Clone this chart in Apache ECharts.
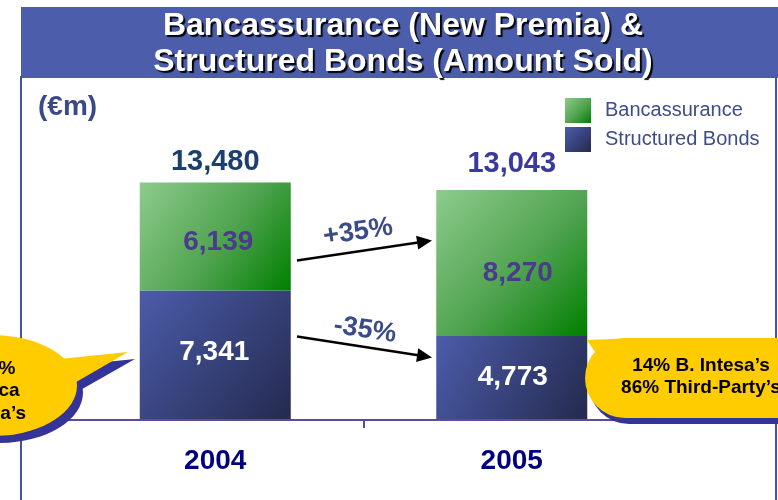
<!DOCTYPE html>
<html><head><meta charset="utf-8">
<script src="https://cdn.jsdelivr.net/npm/echarts@6/dist/echarts.min.js"></script>
<style>html,body{margin:0;padding:0;background:#fff}#c{width:778px;height:500px}</style>
</head><body><div id="c"></div>
<script>
// ---- data ----
const years = ['2004', '2005'];
const structuredBonds = [7341, 4773];
const bancassurance = [6139, 8270];
const totals = [13480, 13043];
const growthBanc = '+35%';
const growthBonds = '-35%';
const unitLabel = '(€m)';
const titleText = 'Bancassurance (New Premia) &\nStructured Bonds (Amount Sold)';
const calloutLeft = ['100%', 'Banca', 'Intesa’s'];
const calloutRight = ['14% B. Intesa’s', '86% Third-Party’s'];

// ---- styles ----
const FONT = "'Liberation Sans', Arial, sans-serif";
const greenGrad = new echarts.graphic.LinearGradient(0, 0, 1, 1, [
  {offset: 0, color: '#8DCB8D'}, {offset: 0.55, color: '#4FA34F'}, {offset: 1, color: '#007F00'}]);
const blueGrad = new echarts.graphic.LinearGradient(0, 0, 1, 1, [
  {offset: 0, color: '#4B5CAA'}, {offset: 1, color: '#242A4E'}]);
const greenOff = [[3, 6], [6, 10]];
const blueOff = [[-1, -3], [1, -1]];
const totalDist = [5, 11];
const totalColor = ['#1B3F6E', '#3A3A9C'];

const chart = echarts.init(document.getElementById('c'), null, {renderer: 'canvas'});

function arrow(x1, y1, x2, y2) {
  const dx = x2 - x1, dy = y2 - y1, L = Math.hypot(dx, dy);
  const ux = dx / L, uy = dy / L, nx = -uy, ny = ux;
  const hl = 15, hw = 7;
  const bx = x2 - hl * ux, by = y2 - hl * uy;
  return [
    {type: 'line', z: 60, shape: {x1: x1, y1: y1, x2: bx + ux, y2: by + uy}, style: {stroke: '#000', lineWidth: 2.5}},
    {type: 'polygon', z: 60, shape: {points: [[x2, y2], [bx + hw * nx, by + hw * ny], [bx - hw * nx, by - hw * ny]]}, style: {fill: '#000'}}
  ];
}

const graphics = [
  {type: 'rect', z: -10, shape: {x: 21, y: 7, width: 757, height: 71}, style: {fill: '#4C5DAB'}},
  {type: 'line', z: -5, shape: {x1: 21, y1: 76, x2: 21, y2: 500}, style: {stroke: '#4453A2', lineWidth: 2}},
  {type: 'line', z: -5, shape: {x1: 776, y1: 76, x2: 776, y2: 500}, style: {stroke: '#4453A2', lineWidth: 2}},
  {type: 'line', z: 50, shape: {x1: 21, y1: 420, x2: 776, y2: 420}, style: {stroke: '#5A4B9B', lineWidth: 2}},
  {type: 'line', z: 50, shape: {x1: 364, y1: 420, x2: 364, y2: 428}, style: {stroke: '#5A4B9B', lineWidth: 2}},
  ...arrow(297, 260.5, 432, 240.5),
  ...arrow(297, 336.5, 432, 357.5),
  {type: 'text', z: 60, x: 358, y: 232, rotation: 0.148,
   style: {text: growthBanc, x: 0, y: 0, align: 'center', verticalAlign: 'middle',
           font: 'bold 27px ' + FONT, fill: '#3B4A88'}},
  {type: 'text', z: 60, x: 365, y: 330, rotation: -0.15,
   style: {text: growthBonds, x: 0, y: 0, align: 'center', verticalAlign: 'middle',
           font: 'bold 27px ' + FONT, fill: '#3B4A88'}},
  // left callout
  {type: 'ellipse', z: 100, shape: {cx: -1, cy: 392.5, rx: 84, ry: 50.5}, style: {fill: '#333399'}},
  {type: 'polygon', z: 100, shape: {points: [[56, 367], [135, 359], [77, 392]]}, style: {fill: '#333399'}},
  {type: 'ellipse', z: 101, shape: {cx: -7, cy: 385.5, rx: 84, ry: 50.5}, style: {fill: '#FFCC00'}},
  {type: 'polygon', z: 101, shape: {points: [[50, 360], [128, 352], [71, 385]]}, style: {fill: '#FFCC00'}},
  {type: 'text', z: 102, style: {text: calloutLeft.join('\n'), x: -9, y: 391, align: 'center', verticalAlign: 'middle',
   font: 'bold 19px ' + FONT, lineHeight: 22.5, fill: '#000'}},
  // right callout
  {type: 'rect', z: 100, shape: {x: 589, y: 344, width: 420, height: 80, r: 40}, style: {fill: '#333399'}},
  {type: 'rect', z: 101, shape: {x: 585, y: 338, width: 420, height: 80, r: 40}, style: {fill: '#FFCC00'}},
  {type: 'polygon', z: 101, shape: {points: [[587, 340], [632, 338.3], [601, 361]]}, style: {fill: '#FFCC00'}},
  {type: 'text', z: 102, style: {text: calloutRight.join('\n'), x: 701, y: 376.5, align: 'center', verticalAlign: 'middle',
   font: 'bold 19px ' + FONT, lineHeight: 22, fill: '#000'}}
];

chart.setOption({
  animation: false,
  backgroundColor: '#fff',
  textStyle: {fontFamily: FONT},
  title: [
    {text: titleText, left: 403, top: 8.5, padding: 0, textAlign: 'center',
     textStyle: {color: '#fff', fontSize: 32, fontWeight: 'bold', lineHeight: 36, fontFamily: FONT,
                 textShadowColor: 'rgba(0,0,0,0.95)', textShadowOffsetX: 2, textShadowOffsetY: 2, textShadowBlur: 1}},
    {text: unitLabel, left: 38, top: 92, padding: 0,
     textStyle: {color: '#3A4A85', fontSize: 28, fontWeight: 'bold', lineHeight: 31, fontFamily: FONT}}
  ],
  legend: {
    data: ['Bancassurance', 'Structured Bonds'],
    orient: 'vertical', left: 565, top: 98, padding: 0,
    itemWidth: 26, itemHeight: 25, itemGap: 4,
    icon: 'rect',
    textStyle: {fontSize: 20, color: '#3E4C88', fontFamily: FONT, padding: [0, 0, 0, 9]}
  },
  grid: {left: 67, right: 118, top: 138, bottom: 80},
  xAxis: {
    type: 'category', data: years,
    axisLine: {show: false}, axisTick: {show: false},
    axisLabel: {fontSize: 28, fontWeight: 'bold', color: '#000080', margin: 27, fontFamily: FONT}
  },
  yAxis: {type: 'value', min: 0, max: 16000, show: false, splitLine: {show: false}},
  series: [
    {name: 'Structured Bonds', type: 'bar', stack: 'tot', barWidth: 151,
     itemStyle: {color: blueGrad},
     label: {show: true, position: 'inside', color: '#fff', fontSize: 28, fontWeight: 'bold', fontFamily: FONT,
             formatter: p => p.value.toLocaleString('en-US')},
     data: structuredBonds.map((v, i) => ({value: v, label: {offset: blueOff[i]}}))},
    {name: 'Bancassurance', type: 'bar', stack: 'tot', barWidth: 151,
     itemStyle: {color: greenGrad},
     label: {show: true, position: 'inside', color: '#4B3A8E', fontSize: 28, fontWeight: 'bold', fontFamily: FONT,
             formatter: p => p.value.toLocaleString('en-US')},
     data: bancassurance.map((v, i) => ({value: v, label: {offset: greenOff[i]}}))},
    {name: 'Total', type: 'scatter', symbolSize: 2, silent: true,
     itemStyle: {color: 'rgba(0,0,0,0)', opacity: 1},
     label: {show: true, position: 'top', fontSize: 29, fontWeight: 'bold', fontFamily: FONT, opacity: 1,
             formatter: p => p.value.toLocaleString('en-US')},
     data: totals.map((v, i) => ({value: v, label: {distance: totalDist[i], color: totalColor[i]}}))}
  ],
  graphic: graphics
});
</script>
</body></html>
